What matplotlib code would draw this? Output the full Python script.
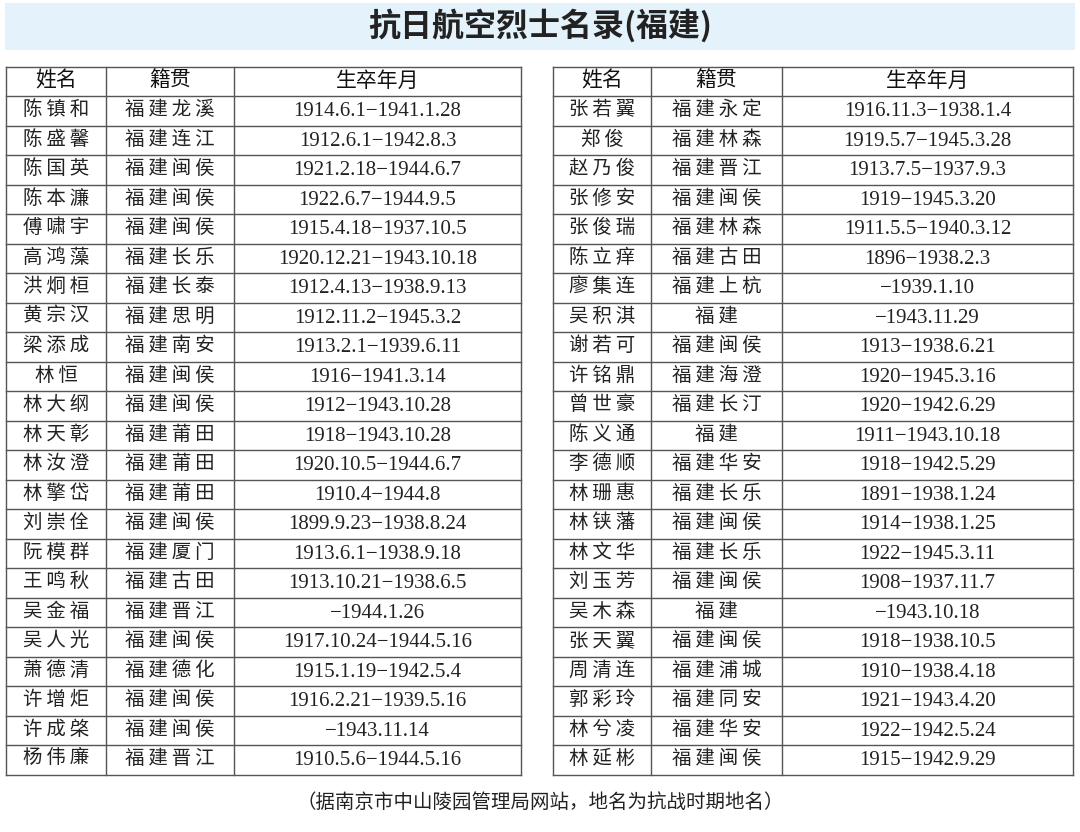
import matplotlib
matplotlib.use("Agg")
import matplotlib.pyplot as plt

plt.rcParams['font.family'] = ['Noto Sans CJK SC', 'DejaVu Sans']

title = "抗日航空烈士名录(福建)"
headers = ["姓名", "籍贯", "生卒年月"]
note = "（据南京市中山陵园管理局网站，地名为抗战时期地名）"

left_names = ["陈镇和", "陈盛馨", "陈国英", "陈本濂", "傅啸宇", "高鸿藻", "洪炯桓", "黄宗汉",
              "梁添成", "林恒", "林大纲", "林天彰", "林汝澄", "林擎岱", "刘崇佺", "阮模群",
              "王鸣秋", "吴金福", "吴人光", "萧德清", "许增炬", "许成棨", "杨伟廉"]
left_places = ["福建龙溪", "福建连江", "福建闽侯", "福建闽侯", "福建闽侯", "福建长乐", "福建长泰",
               "福建思明", "福建南安", "福建闽侯", "福建闽侯", "福建莆田", "福建莆田", "福建莆田",
               "福建闽侯", "福建厦门", "福建古田", "福建晋江", "福建闽侯", "福建德化", "福建闽侯",
               "福建闽侯", "福建晋江"]
left_dates = ["1914.6.1−1941.1.28", "1912.6.1−1942.8.3", "1921.2.18−1944.6.7", "1922.6.7−1944.9.5",
              "1915.4.18−1937.10.5", "1920.12.21−1943.10.18", "1912.4.13−1938.9.13",
              "1912.11.2−1945.3.2", "1913.2.1−1939.6.11", "1916−1941.3.14", "1912−1943.10.28",
              "1918−1943.10.28", "1920.10.5−1944.6.7", "1910.4−1944.8", "1899.9.23−1938.8.24",
              "1913.6.1−1938.9.18", "1913.10.21−1938.6.5", "−1944.1.26", "1917.10.24−1944.5.16",
              "1915.1.19−1942.5.4", "1916.2.21−1939.5.16", "−1943.11.14", "1910.5.6−1944.5.16"]

right_names = ["张若翼", "郑俊", "赵乃俊", "张修安", "张俊瑞", "陈立痒", "廖集连", "吴积淇",
               "谢若可", "许铭鼎", "曾世豪", "陈义通", "李德顺", "林珊惠", "林铗藩", "林文华",
               "刘玉芳", "吴木森", "张天翼", "周清连", "郭彩玲", "林兮凌", "林延彬"]
right_places = ["福建永定", "福建林森", "福建晋江", "福建闽侯", "福建林森", "福建古田", "福建上杭",
                "福建", "福建闽侯", "福建海澄", "福建长汀", "福建", "福建华安", "福建长乐",
                "福建闽侯", "福建长乐", "福建闽侯", "福建", "福建闽侯", "福建浦城", "福建同安",
                "福建华安", "福建闽侯"]
right_dates = ["1916.11.3−1938.1.4", "1919.5.7−1945.3.28", "1913.7.5−1937.9.3", "1919−1945.3.20",
               "1911.5.5−1940.3.12", "1896−1938.2.3", "−1939.1.10", "−1943.11.29", "1913−1938.6.21",
               "1920−1945.3.16", "1920−1942.6.29", "1911−1943.10.18", "1918−1942.5.29",
               "1891−1938.1.24", "1914−1938.1.25", "1922−1945.3.11", "1908−1937.11.7",
               "−1943.10.18", "1918−1938.10.5", "1910−1938.4.18", "1921−1943.4.20",
               "1922−1942.5.24", "1915−1942.9.29"]

fig = plt.figure(figsize=(10.8, 8.32), dpi=100)
ax = fig.add_axes([0, 0, 1, 1])
ax.set_xlim(0, 1080)
ax.set_ylim(832, 0)
ax.axis("off")

# title band
ax.add_patch(plt.Rectangle((5, 3), 1070, 47, color="#e3f2fb", lw=0))
ax.text(540, 26, title, ha="center", va="center", fontsize=23, fontweight="bold", color="#222222")

top, head_h, row_h = 67, 29, 29.5
line_c = "#555555"


def spaced(s):
    # the reference sets names and places with a little letter spacing
    return "\u2009".join(s)


def draw_table(cols, names, places, dates):
    n = len(names)
    bottom = top + head_h + n * row_h
    for x in cols:
        ax.plot([x, x], [top, bottom], color=line_c, lw=1)
    ax.plot([cols[0], cols[-1]], [top, top], color=line_c, lw=1)
    for i in range(n + 1):
        y = top + head_h + i * row_h
        ax.plot([cols[0], cols[-1]], [y, y], color=line_c, lw=1)
    centers = [(cols[i] + cols[i + 1]) / 2 for i in range(3)]
    for c, h in zip(centers, headers):
        ax.text(c, top + head_h / 2 - 1, h, ha="center", va="center", fontsize=15, color="#111111")
    for i in range(n):
        y = top + head_h + (i + 0.5) * row_h
        ax.text(centers[0], y - 1, spaced(names[i]), ha="center", va="center", fontsize=14,
                color="#222222", family=["Noto Sans CJK SC", "DejaVu Sans"])
        ax.text(centers[1], y - 1, spaced(places[i]), ha="center", va="center", fontsize=14,
                color="#222222", family=["Noto Sans CJK SC", "DejaVu Sans"])
        ax.text(centers[2], y + 1, dates[i], ha="center", va="center", fontsize=15, color="#222222",
                family=["Liberation Serif", "DejaVu Serif"])


draw_table([6, 106, 234, 521], left_names, left_places, left_dates)
draw_table([553, 651, 782, 1073], right_names, right_places, right_dates)

ax.text(540, 802, note, ha="center", va="center", fontsize=14, color="#222222")

fig.savefig("out.png", dpi=100)
